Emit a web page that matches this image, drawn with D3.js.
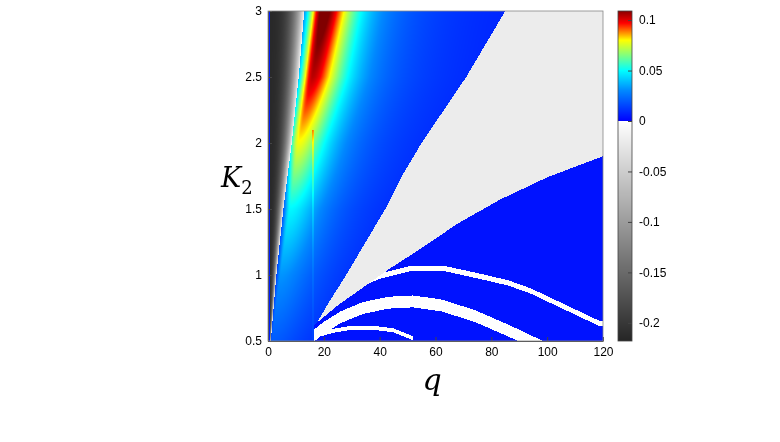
<!DOCTYPE html>
<html>
<head>
<meta charset="utf-8">
<script src="https://cdn.jsdelivr.net/npm/d3@7"></script>
<style>
  body { margin: 0; background: #fff; }
  .tick text { font-family: "Liberation Sans", Arial, sans-serif; font-size: 12px; }
</style>
</head>
<body>
<div id="chart" style="position:relative;width:780px;height:442px;"></div>
<script>
(function() {
  // axis ticks
  var qTicks = [0, 20, 40, 60, 80, 100, 120];
  var kTicks = [0.5, 1, 1.5, 2, 2.5, 3];
  var cbTicks = [0.1, 0.05, 0, -0.05, -0.1, -0.15, -0.2];

  // ridge of the positive lobe, sampled along K
  var ridgeK = [0.5, 1, 1.5, 2, 2.5, 3];
  var ridgeQ = [1.5, 4.5, 8, 11, 16, 20];
  var ridgePeak = [0.016, 0.028, 0.045, 0.075, 0.1, 0.112];
  var ridgeRight = [14, 14, 13, 12, 11.5, 11];
  var ridgeLeft = [1, 1.5, 2.5, 4, 5, 6];
  // right edge of the dark wedge
  var wedgeQ = [1, 3, 5.5, 8.5, 11, 13];

  // light gray region, upper-left edge (q vs K)
  var grayUpK = [0.6, 0.8, 1, 1.25, 1.5, 1.75, 2, 2.25, 2.5, 2.75, 3];
  var grayUpQ = [16.5, 22, 28, 35, 42, 48, 55, 63, 71, 78, 85];
  // light gray region, lower edge (K vs q)
  var grayLoQ = [16.5, 25, 33, 43, 54, 68, 83, 100, 120];
  var grayLoK = [0.62, 0.77, 0.89, 1.04, 1.19, 1.39, 1.57, 1.74, 1.9];

  // white bands inside the lower blue region
  var bandAQ = [14, 20, 26, 34, 43, 52, 62, 74, 87, 94, 100];
  var bandAK = [0.5, 0.6, 0.68, 0.75, 0.79, 0.8, 0.77, 0.69, 0.57, 0.5, 0.44];
  var bandBQ = [22, 29.5, 40, 51, 63, 76, 86, 94, 105, 119];
  var bandBK = [0.82, 0.9, 0.99, 1.05, 1.05, 0.99, 0.94, 0.88, 0.77, 0.63];
  var bandCQ = [17, 24, 30, 38, 45, 52];
  var bandCK = [0.54, 0.58, 0.6, 0.6, 0.58, 0.52];

  var vGrayRegion = -0.019, vLowBlue = 0.004, vWhite = -0.0005;

  var left = 268, top = 11, w = 335, h = 330;
  var x = d3.scaleLinear().domain([0, 120]).range([0, w]);
  var y = d3.scaleLinear().domain([0.5, 3]).range([h, 0]);

  var lerp = function(xs, ys) {
    return d3.scaleLinear().domain(xs).range(ys).clamp(true);
  };
  var fRq = lerp(ridgeK, ridgeQ), fRp = lerp(ridgeK, ridgePeak),
      fRr = lerp(ridgeK, ridgeRight), fRl = lerp(ridgeK, ridgeLeft),
      fW = lerp(ridgeK, wedgeQ), fGu = lerp(grayUpK, grayUpQ),
      fGl = lerp(grayLoQ, grayLoK), fA = lerp(bandAQ, bandAK),
      fB = lerp(bandBQ, bandBK), fC = lerp(bandCQ, bandCK);

  var value = function(q, k) {
    if (q < 0.6) return 0.006;
    var qb = fW(k);
    if (q < qb) {
      var t = q / qb;
      return -0.215 + 0.2 * t * t * t;
    }
    if (q > 16.5) {
      if (q > fGu(k) && k > fGl(q)) return vGrayRegion;
      if (k <= fGl(q)) {
        if (q > bandAQ[0] && q < bandAQ[10] && Math.abs(k - fA(q)) < 0.045) return vWhite;
        if (q > bandBQ[0] && Math.abs(k - fB(q)) < 0.02) return vWhite;
        if (q > bandCQ[0] && q < bandCQ[5] && Math.abs(k - fC(q)) < 0.015) return vWhite;
        return vLowBlue;
      }
    }
    var d = q - fRq(k);
    var v;
    if (d < 0) {
      var dl = d / fRl(k);
      v = 0.004 + fRp(k) * Math.exp(-dl * dl);
    } else {
      v = 0.004 + fRp(k) / (1 + Math.pow(d / fRr(k), 1.8));
    }
    if (q > 15.9 && q < 16.6 && k < 2.1) v *= 1.2;
    return v;
  };

  var pos = d3.scaleLinear()
    .domain([0, 0.03, 0.05, 0.08, 0.097, 0.11])
    .range(['#0000ff', '#0088ff', '#00ffff', '#ffff00', '#ff0000', '#800000'])
    .clamp(true);
  var neg = d3.scaleLinear().domain([-0.218, 0]).range(['#262626', '#ffffff']).clamp(true);
  var color = function(v) { return v >= 0 ? pos(v) : neg(v); };
  var fmt = function(d) { return String(d); };

  var root = d3.select('#chart');

  var canvas = root.append('canvas')
    .attr('width', w).attr('height', h)
    .style('position', 'absolute')
    .style('left', left + 'px').style('top', top + 'px');
  var ctx = canvas.node().getContext('2d');
  var img = ctx.createImageData(w, h);
  for (var py = 0; py < h; py++) {
    var k = y.invert(py + 0.5);
    for (var px = 0; px < w; px++) {
      var c = d3.rgb(color(value(x.invert(px + 0.5), k)));
      var o = (py * w + px) * 4;
      img.data[o] = c.r; img.data[o + 1] = c.g; img.data[o + 2] = c.b; img.data[o + 3] = 255;
    }
  }
  ctx.putImageData(img, 0, 0);

  // colorbar
  var cbLeft = 618, cbW = 14;
  var cy = d3.scaleLinear().domain([-0.218, 0.109]).range([h, 0]);
  var cb = root.append('canvas')
    .attr('width', cbW).attr('height', h)
    .style('position', 'absolute')
    .style('left', cbLeft + 'px').style('top', top + 'px');
  var cctx = cb.node().getContext('2d');
  for (var i = 0; i < h; i++) {
    cctx.fillStyle = color(cy.invert(i + 0.5));
    cctx.fillRect(0, i, cbW, 1);
  }

  var svg = root.append('svg')
    .attr('width', 780).attr('height', 442)
    .style('position', 'absolute').style('left', 0).style('top', 0);

  var g = svg.append('g').attr('transform', 'translate(' + left + ',' + top + ')');
  g.append('g').attr('transform', 'translate(0,' + h + ')')
    .call(d3.axisBottom(x).tickValues(qTicks).tickSizeInner(-4).tickSizeOuter(0).tickPadding(6));
  g.append('g')
    .call(d3.axisLeft(y).tickValues(kTicks).tickFormat(fmt).tickSizeInner(-4).tickSizeOuter(0).tickPadding(6));
  g.append('rect').attr('width', w).attr('height', h)
    .attr('fill', 'none').attr('stroke', '#888').attr('stroke-width', 0.8);
  g.selectAll('.domain').attr('stroke', '#444');
  g.selectAll('.tick line').attr('stroke', '#444');

  var gc = svg.append('g').attr('transform', 'translate(' + (cbLeft + cbW) + ',' + top + ')');
  gc.call(d3.axisRight(cy).tickValues(cbTicks).tickFormat(fmt).tickSizeInner(4).tickSizeOuter(0).tickPadding(3));
  gc.selectAll('.tick line').attr('transform', 'translate(-4,0)').attr('stroke', '#444');
  svg.append('rect').attr('x', cbLeft).attr('y', top).attr('width', cbW).attr('height', h)
    .attr('fill', 'none').attr('stroke', '#444').attr('stroke-width', 0.8);
  gc.select('.domain').remove();

  svg.append('text').attr('x', 432).attr('y', 390)
    .attr('text-anchor', 'middle')
    .style('font-family', '"DejaVu Serif", serif').style('font-style', 'italic').style('font-size', '30px')
    .text('q');
  var kl = svg.append('text').attr('x', 221).attr('y', 187)
    .style('font-family', '"DejaVu Serif", serif').style('font-style', 'italic').style('font-size', '27px');
  kl.append('tspan').text('K');
  kl.append('tspan').attr('dy', 7).style('font-style', 'normal').style('font-size', '18px').text('2');
})();
</script>
</body>
</html>
